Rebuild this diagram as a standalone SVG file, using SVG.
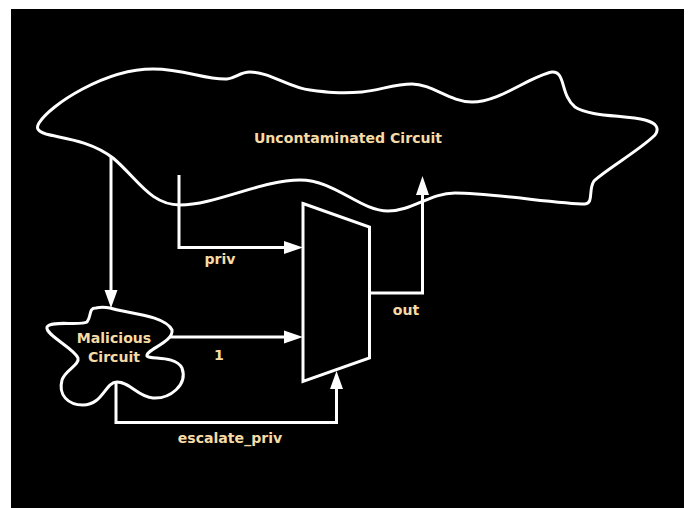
<svg xmlns="http://www.w3.org/2000/svg" width="689" height="508" viewBox="0 0 689 508">
<style>
.l{fill:none;stroke:#fff;stroke-width:3}
.t{font-family:"DejaVu Sans",sans-serif;font-weight:bold;font-size:14.1px;fill:#f6dba6;text-anchor:middle}
.a{fill:#fff;stroke:none}
</style>
<rect x="0" y="0" width="689" height="508" fill="#fff"/>
<rect x="11" y="9" width="673" height="499" fill="#000"/>
<g id="uncontaminated">
<path class="l" d="M39 123C50 105 105 69 153 69C185 69 205 80 227 79C236 78 240 72 250 72C270 72 290 88 310 90C325 92 340 94 362 92C380 90 395 84 412 84C432 84 450 102 472 102C500 102 530 76 552 72C566 71 560 95 575 107C590 117 625 115 645 120C656 123 660 128 655 135C640 150 605 170 594 181C588 190 594 203 585 204C560 204 490 193 455 193C430 193 412 211 388 211C360 211 335 180 300 180C262 180 215 205 180 205C150 205 137 178 113 158C90 140 60 138 46 134C37 131 36 128 39 123Z"/>
<text class="t" x="348" y="143">Uncontaminated Circuit</text>
</g>
<g id="malicious">
<path class="l" d="M110 308C125 313 165 315 172 330C174 342 145 350 147 356C150 360 175 355 182 368C188 385 170 399 153 398C138 397 130 382 117 382C105 382 103 405 83 405C68 405 58 395 62 380C65 370 80 365 78 358C74 348 45 335 47 327C50 320 80 326 87 322C92 316 88 308 96 308C100 307 105 307 110 308Z"/>
<text class="t" x="114" y="343">Malicious</text>
<text class="t" x="114" y="362">Circuit</text>
</g>
<g id="mux">
<path class="l" d="M303 203.500L369.500 227V358L303 381.500Z"/>
</g>
<g id="connectors">
<path class="l" d="M111 157V292"/>
<polygon class="a" points="111,308 104.500,290 117.500,290"/>
<path class="l" d="M179 175V247.500H288"/>
<polygon class="a" points="303,247.500 284,241 284,254"/>
<path class="l" d="M170 337H288"/>
<polygon class="a" points="303,337 284,330.500 284,343.500"/>
<path class="l" d="M370 293H422.500V192"/>
<polygon class="a" points="422.500,176 416,195 429,195"/>
<path class="l" d="M116 383V422.500H336.500V385"/>
<polygon class="a" points="336.500,371 330,389 343,389"/>
</g>
<g id="labels">
<text class="t" x="220" y="264">priv</text>
<text class="t" x="219" y="360">1</text>
<text class="t" x="406" y="315">out</text>
<text class="t" x="230" y="443">escalate_priv</text>
</g>
</svg>
